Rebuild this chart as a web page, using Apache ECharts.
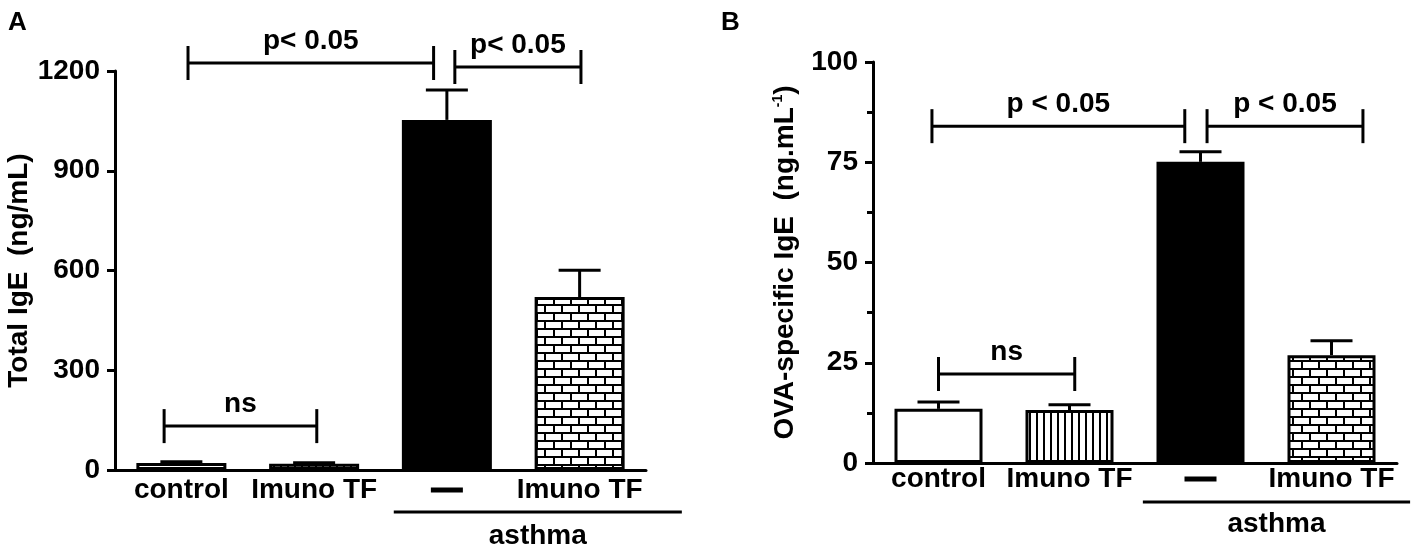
<!DOCTYPE html>
<html><head><meta charset="utf-8">
<script src="https://cdn.jsdelivr.net/npm/echarts@6/dist/echarts.min.js"></script>
<style>html,body{margin:0;padding:0;background:#fff}#c{width:1417px;height:550px}</style>
</head><body><div id="c"></div>
<script>
// ---- data ----
const categories = ['control', 'Imuno TF', '—', 'Imuno TF'];
const groupName = 'asthma';
const totalIgE = [21, 19, 1053, 520];
const totalIgESem = [4, 3, 90, 81];
const ovaIgE = [13.5, 13.2, 75.1, 26.9];
const ovaIgESem = [1.7, 1.3, 2.5, 3.6];
const totalTicks = [0, 300, 600, 900, 1200];
const ovaTicks = [0, 25, 50, 75, 100];
// brackets: from/to in category units (0 = first category), y in data units
const bracketsA = [
  {from: 0.05, to: 1.90, y: 1224, text: 'p< 0.05'},
  {from: 2.06, to: 3.01, y: 1212, text: 'p< 0.05'},
  {from: -0.13, to: 1.02, y: 132, text: 'ns'}
];
const bracketsB = [
  {from: -0.05, to: 1.88, y: 84.0, text: 'p < 0.05'},
  {from: 2.05, to: 3.24, y: 84.0, text: 'p < 0.05'},
  {from: 0.0, to: 1.04, y: 22.2, text: 'ns'}
];
const groupA = {from: 1.60, to: 3.77};
const groupB = {from: 1.56, to: 3.60};

// ---- styling ----
const FONT = "'Liberation Sans', Arial, sans-serif";
const FS = 28;

function brickPattern() {
  const c = document.createElement('canvas');
  c.width = 34; c.height = 16;
  const g = c.getContext('2d');
  g.fillStyle = '#000'; g.fillRect(0, 0, 34, 16);
  g.fillStyle = '#fff';
  [[2, 2], [19, 2], [-6, 10], [11, 10], [28, 10]].forEach(([x, y]) => g.fillRect(x, y, 15, 6));
  return c;
}
function stripePattern() {
  const c = document.createElement('canvas');
  c.width = 7; c.height = 4;
  const g = c.getContext('2d');
  g.fillStyle = '#fff'; g.fillRect(0, 0, 7, 4);
  g.fillStyle = '#000'; g.fillRect(0, 0, 2, 4);
  return c;
}
const fills = ['#ffffff', {image: stripePattern(), repeat: 'repeat'}, '#000000', {image: brickPattern(), repeat: 'repeat'}];

function barData(vals) {
  return vals.map((v, i) => ({value: v, itemStyle: {color: fills[i], borderColor: '#000', borderWidth: 3}}));
}

function errRender(params, api) {
  const i = api.value(0), v = api.value(1), e = api.value(2);
  const p0 = api.coord([i, v]), p1 = api.coord([i, v + e]);
  const hw = 21;
  const st = {stroke: '#000', lineWidth: 3};
  return {type: 'group', children: [
    {type: 'line', shape: {x1: p0[0], y1: p0[1], x2: p1[0], y2: p1[1]}, style: st},
    {type: 'line', shape: {x1: p1[0] - hw, y1: p1[1], x2: p1[0] + hw, y2: p1[1]}, style: st}
  ]};
}

function bracketRender(list) {
  return function (params, api) {
    const b = list[params.dataIndex];
    const c0 = api.coord([0, b.y]);
    const band = api.size([1, 0])[0];
    const x1 = c0[0] + b.from * band, x2 = c0[0] + b.to * band, y = c0[1];
    const t = 17;
    const st = {stroke: '#000', lineWidth: 3};
    return {type: 'group', children: [
      {type: 'line', shape: {x1: x1, y1: y, x2: x2, y2: y}, style: st},
      {type: 'line', shape: {x1: x1, y1: y - t, x2: x1, y2: y + t}, style: st},
      {type: 'line', shape: {x1: x2, y1: y - t, x2: x2, y2: y + t}, style: st},
      {type: 'text', x: (x1 + x2) / 2, y: y - 8, style: {text: b.text, fill: '#000', font: 'bold ' + FS + 'px ' + FONT, textAlign: 'center', textVerticalAlign: 'bottom'}}
    ]};
  };
}

function groupRender(g, lineOff, textOff) {
  return function (params, api) {
    const c0 = api.coord([0, 0]);
    const band = api.size([1, 0])[0];
    const x1 = c0[0] + g.from * band, x2 = c0[0] + g.to * band, y = c0[1] + lineOff;
    return {type: 'group', children: [
      {type: 'line', shape: {x1: x1, y1: y, x2: x2, y2: y}, style: {stroke: '#000', lineWidth: 3}},
      {type: 'text', x: (x1 + x2) / 2, y: y + textOff, style: {text: groupName, fill: '#000', font: 'bold ' + FS + 'px ' + FONT, textAlign: 'center', textVerticalAlign: 'middle'}}
    ]};
  };
}

function xAxis(gridIndex, margin) {
  return {
    type: 'category', gridIndex: gridIndex, data: categories,
    axisLine: {lineStyle: {color: '#000', width: 3}},
    axisTick: {show: false},
    axisLabel: {
      interval: 0, margin: margin, color: '#000', fontSize: FS, fontWeight: 'bold', fontFamily: FONT,
      formatter: v => v === '—' ? '{s| }{d| }{s| }' : v,
      rich: {
        d: {width: 32, height: 5, backgroundColor: '#000', verticalAlign: 'middle'},
        s: {width: 1, height: 28, verticalAlign: 'middle'}
      }
    },
    splitLine: {show: false}
  };
}
function yAxis(gridIndex, ticks, name, nameGap, minor) {
  return {
    type: 'value', gridIndex: gridIndex, min: ticks[0], max: ticks[ticks.length - 1],
    interval: ticks[1] - ticks[0],
    name: name, nameLocation: 'middle', nameRotate: 90, nameGap: nameGap,
    nameTextStyle: {color: '#000', fontSize: FS, fontWeight: 'bold', fontFamily: FONT,
      rich: {sup: {fontSize: 14, fontWeight: 'bold', fontFamily: FONT, verticalAlign: 'top', padding: [0, 0, 14, 0]}}},
    axisLine: {show: true, lineStyle: {color: '#000', width: 3}},
    axisTick: {show: true, length: 8, lineStyle: {color: '#000', width: 3}},
    minorTick: {show: !!minor, splitNumber: 2, length: 6, lineStyle: {color: '#000', width: 3}},
    axisLabel: {color: '#000', fontSize: FS, fontWeight: 'bold', fontFamily: FONT, margin: 15,
      formatter: v => String(v)},
    splitLine: {show: false}
  };
}

const chart = echarts.init(document.getElementById('c'), null, {renderer: 'canvas'});
chart.setOption({
  animation: false,
  backgroundColor: '#fff',
  title: [
    {text: 'A', left: 3, top: 5, textStyle: {fontSize: 26, fontWeight: 'bold', fontFamily: FONT, color: '#000'}},
    {text: 'B', left: 716, top: 5, textStyle: {fontSize: 26, fontWeight: 'bold', fontFamily: FONT, color: '#000'}}
  ],
  grid: [
    {left: 115, top: 71, width: 531, height: 399},
    {left: 873, top: 62, width: 524, height: 401}
  ],
  xAxis: [xAxis(0, 6), xAxis(1, 2)],
  yAxis: [
    yAxis(0, totalTicks, 'Total IgE  (ng/mL)', 82, false),
    yAxis(1, ovaTicks, 'OVA-specific IgE  (ng.mL{sup|-1})', 74, true)
  ],
  series: [
    {type: 'bar', xAxisIndex: 0, yAxisIndex: 0, barWidth: 90, data: barData(totalIgE), z: 2},
    {type: 'bar', xAxisIndex: 1, yAxisIndex: 1, barWidth: 88, data: barData(ovaIgE), z: 2},
    {type: 'custom', xAxisIndex: 0, yAxisIndex: 0, renderItem: errRender, z: 3, clip: false,
      encode: {x: 0, y: 1}, data: totalIgE.map((v, i) => [i, v, totalIgESem[i]])},
    {type: 'custom', xAxisIndex: 1, yAxisIndex: 1, renderItem: errRender, z: 3, clip: false,
      encode: {x: 0, y: 1}, data: ovaIgE.map((v, i) => [i, v, ovaIgESem[i]])},
    {type: 'custom', xAxisIndex: 0, yAxisIndex: 0, renderItem: bracketRender(bracketsA), z: 4, clip: false,
      encode: {x: 0, y: 1}, data: bracketsA.map(b => [0, b.y])},
    {type: 'custom', xAxisIndex: 1, yAxisIndex: 1, renderItem: bracketRender(bracketsB), z: 4, clip: false,
      encode: {x: 0, y: 1}, data: bracketsB.map(b => [0, b.y])},
    {type: 'custom', xAxisIndex: 0, yAxisIndex: 0, renderItem: groupRender(groupA, 42, 24), z: 4, clip: false,
      encode: {x: 0, y: 1}, data: [[0, 0]]},
    {type: 'custom', xAxisIndex: 1, yAxisIndex: 1, renderItem: groupRender(groupB, 39, 22), z: 4, clip: false,
      encode: {x: 0, y: 1}, data: [[0, 0]]}
  ]
});
</script>
</body></html>
